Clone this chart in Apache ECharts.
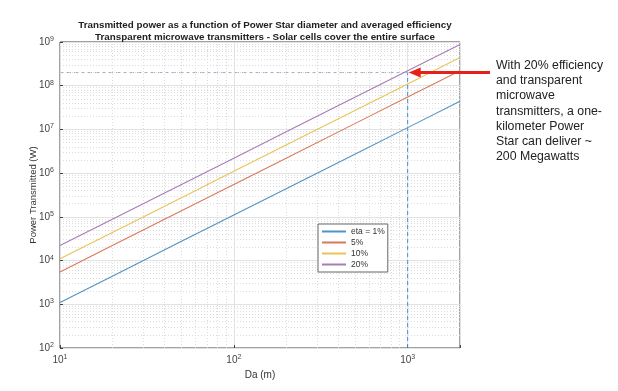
<!DOCTYPE html>
<html><head><meta charset="utf-8">
<script src="https://cdn.jsdelivr.net/npm/echarts@6/dist/echarts.min.js"></script>
<style>html,body{margin:0;padding:0;background:#fff}#c{width:618px;height:391px}</style>
</head><body><div id="c"></div>
<script>
// Data
const diameters = [10, 20, 50, 100, 200, 500, 1000, 2000];
const eta1  = [1.1e3, 4.4e3, 2.75e4, 1.1e5, 4.4e5, 2.75e6, 1.1e7, 4.4e7];
const eta5  = [5.5e3, 2.2e4, 1.375e5, 5.5e5, 2.2e6, 1.375e7, 5.5e7, 2.2e8];
const eta10 = [1.1e4, 4.4e4, 2.75e5, 1.1e6, 4.4e6, 2.75e7, 1.1e8, 4.4e8];
const eta20 = [2.2e4, 8.8e4, 5.5e5, 2.2e6, 8.8e6, 5.5e7, 2.2e8, 8.8e8];
const seriesNames = ['eta = 1%', '5%', '10%', '20%'];
const highlightD = 1000;
const highlightP = 2e8;
const annotationLines = ['With 20% efficiency', 'and transparent', 'microwave', 'transmitters, a one-', 'kilometer Power', 'Star can deliver ~', '200 Megawatts'];

const colors = ['#4f93c4', '#d87a5a', '#e6c45a', '#a77cb8'];
const chart = echarts.init(document.getElementById('c'));

function pairs(ys){ return diameters.map((d,i)=>[d, ys[i]]); }
function supFmt(v){ const e = Math.round(Math.log10(v)); if (Math.abs(Math.pow(10,e)-v)/v > 1e-6) return ''; return '10{s|' + e + '}'; }

const xMinor = [], yMinor = [];
for (let e = 1; e <= 3; e++) for (let m = 2; m <= 9; m++) { const v = m*Math.pow(10,e); if (v < 2000) xMinor.push(v); }
for (let e = 2; e <= 8; e++) for (let m = 2; m <= 9; m++) yMinor.push(m*Math.pow(10,e));

const minorGrid = {
  type: 'line', data: [], silent: true, z: 0, zlevel: 0,
  markLine: { silent: true, symbol: 'none', animation: false, label: {show:false},
    lineStyle: { color: '#dcdcdc', type: [1,2], width: 1 },
    data: xMinor.map(v=>({xAxis: v})).concat(yMinor.map(v=>({yAxis: v}))) }
};

const lineSeries = [eta1, eta5, eta10, eta20].map((ys, i) => ({
  name: seriesNames[i], type: 'line', data: pairs(ys), symbol: 'none',
  lineStyle: { color: colors[i], width: 1.1 }, itemStyle: { color: colors[i] }, z: 5, animation: false
}));

const labelStyle = { fontFamily: 'Liberation Sans', fontSize: 10, color: '#444',
  rich: { s: { fontSize: 7, verticalAlign: 'top', padding: [0,0,6,0], color: '#444', fontFamily: 'Liberation Sans' } } };

chart.setOption({
  animation: false,
  title: {
    text: 'Transmitted power as a function of Power Star diameter and averaged efficiency\nTransparent microwave transmitters - Solar cells cover the entire surface',
    left: 260, textAlign: 'center', top: 15,
    textStyle: { fontFamily: 'Liberation Sans', fontSize: 9.8, fontWeight: 'bold', color: '#222', lineHeight: 11.5 }
  },
  grid: { left: 60, right: 158, top: 42, bottom: 43, show: true, borderColor: '#444', borderWidth: 1, backgroundColor: '#fff' },
  legend: {
    orient: 'vertical', left: 318, top: 224, z: 50, zlevel: 1,
    data: seriesNames.map((n,i)=>({name: n, icon: 'rect', itemStyle: {color: colors[i]}})),
    itemWidth: 24, itemHeight: 2, itemGap: 2,
    textStyle: { fontFamily: 'Liberation Sans', fontSize: 8.5, color: '#333' },
    backgroundColor: '#fff', borderColor: '#666', borderWidth: 1, padding: [3, 3, 3, 4], borderRadius: 0
  },
  xAxis: {
    type: 'log', logBase: 10, min: 10, max: 2000,
    name: 'Da (m)', nameLocation: 'middle', nameGap: 22, nameMoveOverlap: false,
    nameTextStyle: { fontFamily: 'Liberation Sans', fontSize: 10, color: '#333' },
    axisLine: { show: false }, axisTick: { inside: true, length: 3, lineStyle: {color:'#444'} },
    axisLabel: Object.assign({ formatter: supFmt, margin: 6 }, labelStyle),
    splitLine: { show: true, lineStyle: { color: '#e2e2e2', width: 1 } }
  },
  yAxis: {
    type: 'log', logBase: 10, min: 100, max: 1e9, splitNumber: 7,
    name: 'Power Transmitted (W)', nameLocation: 'middle', nameGap: 22, nameMoveOverlap: false,
    nameTextStyle: { fontFamily: 'Liberation Sans', fontSize: 9.5, color: '#333' },
    axisLine: { show: false }, axisTick: { inside: true, length: 3, lineStyle: {color:'#444'} },
    axisLabel: Object.assign({ formatter: supFmt, margin: 6 }, labelStyle),
    splitLine: { show: true, lineStyle: { color: '#e2e2e2', width: 1 } }
  },
  series: [minorGrid].concat(lineSeries).concat([
    { type: 'line', name: 'hdash', data: [[diameters[0], highlightP], [highlightD, highlightP]], symbol: 'none',
      lineStyle: { color: '#9ab0c8', type: [4,3], width: 1 }, z: 2 },
    { type: 'line', name: 'vdash', data: [[highlightD, 100], [highlightD, highlightP]], symbol: 'none',
      lineStyle: { color: '#3d8fe0', type: [4,3], width: 1 }, z: 2 }
  ])
});

// annotation arrow + text, anchored to the highlighted point
const tip = chart.convertToPixel({gridIndex: 0}, [highlightD, highlightP]);
chart.setOption({
  graphic: [
    { type: 'line', shape: { x1: 490, y1: tip[1], x2: tip[0] + 10, y2: tip[1] }, style: { stroke: '#e8201c', lineWidth: 3 }, z: 10 },
    { type: 'polygon', shape: { points: [[tip[0]+1, tip[1]], [tip[0]+13, tip[1]-5], [tip[0]+13, tip[1]+5]] }, style: { fill: '#e8201c' }, z: 10 },
    { type: 'text', left: 496, top: 58, style: { text: annotationLines.join('\n'), fontFamily: 'Liberation Sans', fontSize: 12.3, lineHeight: 15.2, fill: '#222' } }
  ]
});
</script></body></html>
